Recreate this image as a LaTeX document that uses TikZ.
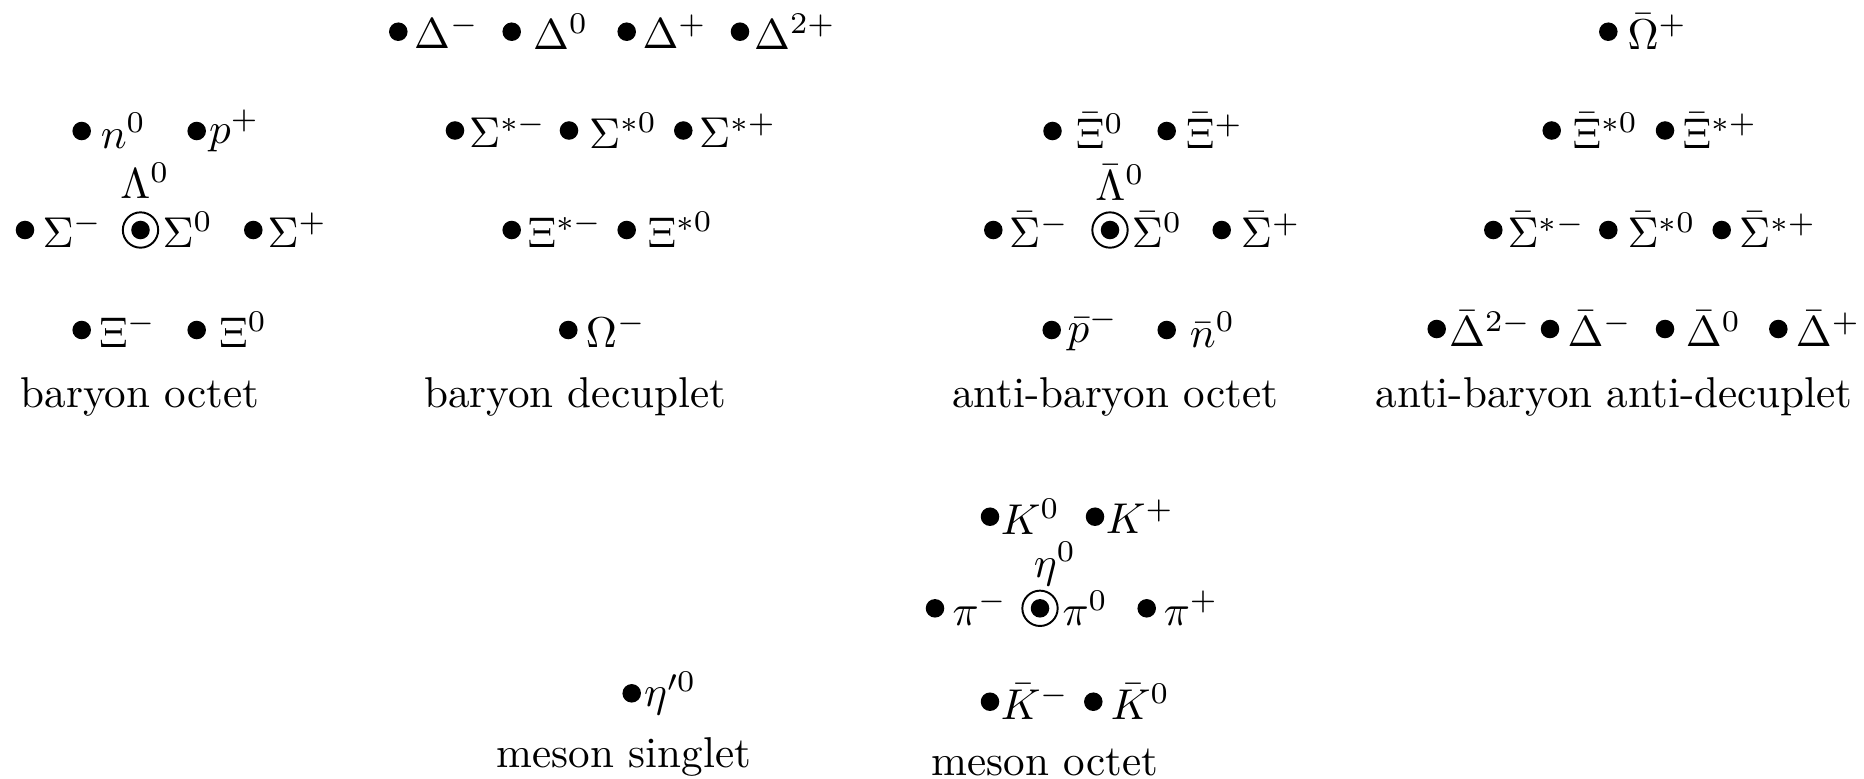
\documentclass[tikz,border=0pt]{standalone}
\begin{document}
\begin{tikzpicture}[x=0.232pt,y=-0.232pt,
  pdot/.style={circle, fill=black, draw=none, inner sep=0pt, minimum size=4.3pt},
  pring/.style={circle, draw=black, line width=0.45pt, inner sep=0pt, minimum size=8.2pt},
  plab/.style={anchor=west, inner sep=0pt},
  ptop/.style={anchor=base, inner sep=0pt},
  ttl/.style={anchor=base, inner sep=0pt}]
\useasboundingbox (0,0) rectangle (1864,778);

% ---------- baryon octet ----------
\node[pdot] (n) at (81.7,131) {};   \node[plab] (nL) at (100,131) {$n^0$};
\node[pdot] (p) at (196.7,131) {};  \node[plab] (pL) at (208.3,131) {$p^+$};
\node[ptop] (LamL) at (145,198.3) {$\Lambda^0$};
\node[pdot] (Sm) at (25,230) {};    \node[plab] (SmL) at (41.7,230) {$\Sigma^-$};
\node[pring] (S0r) at (140.5,230) {};
\node[pdot] (S0) at (140.5,230) {}; \node[plab] (S0L) at (161.7,230) {$\Sigma^0$};
\node[pdot] (Sp) at (253.3,230) {}; \node[plab] (SpL) at (266.7,230) {$\Sigma^+$};
\node[pdot] (Xm) at (81.7,330) {};  \node[plab] (XmL) at (98.3,330) {$\Xi^-$};
\node[pdot] (X0) at (196.7,330) {}; \node[plab] (X0L) at (218.3,330) {$\Xi^0$};
\node[ttl] (t1) at (140,407) {baryon octet};

% ---------- baryon decuplet ----------
\node[pdot] (Dm) at (398.3,31.7) {};  \node[plab] (DmL) at (413.3,31.7) {$\Delta^-$};
\node[pdot] (D0) at (511.7,31.7) {};  \node[plab] (D0L) at (532.3,31.7) {$\Delta^0$};
\node[pdot] (Dp) at (626.7,31.7) {};  \node[plab] (DpL) at (641.7,31.7) {$\Delta^+$};
\node[pdot] (Dpp) at (740,31.7) {};   \node[plab] (DppL) at (753.3,31.7) {$\Delta^{2+}$};
\node[pdot] (Ssm) at (455,130.5) {};  \node[plab] (SsmL) at (468.3,130.5) {$\Sigma^{*-}$};
\node[pdot] (Ss0) at (569,130.5) {};  \node[plab] (Ss0L) at (588.3,130.5) {$\Sigma^{*0}$};
\node[pdot] (Ssp) at (683.3,130.5) {};\node[plab] (SspL) at (698.3,130.5) {$\Sigma^{*+}$};
\node[pdot] (Xsm) at (511.7,230) {};  \node[plab] (XsmL) at (526.7,230) {$\Xi^{*-}$};
\node[pdot] (Xs0) at (626.7,230) {};  \node[plab] (Xs0L) at (646.7,230) {$\Xi^{*0}$};
\node[pdot] (Om) at (568.3,330) {};   \node[plab] (OmL) at (585,330) {$\Omega^-$};
\node[ttl] (t2) at (575,407) {baryon decuplet};

% ---------- anti-baryon octet ----------
\node[pdot] (aX0) at (1052.5,131) {};  \node[plab] (aX0L) at (1075,131) {$\bar\Xi^0$};
\node[pdot] (aXp) at (1166.7,131) {};  \node[plab] (aXpL) at (1185,131) {$\bar\Xi^+$};
\node[ptop] (aLamL) at (1120,200) {$\bar\Lambda^0$};
\node[pdot] (aSm) at (993.3,230) {};   \node[plab] (aSmL) at (1008.3,230) {$\bar\Sigma^-$};
\node[pring] (aS0r) at (1110,230) {};
\node[pdot] (aS0) at (1110,230) {};    \node[plab] (aS0L) at (1131,230) {$\bar\Sigma^0$};
\node[pdot] (aSp) at (1221.7,230) {};  \node[plab] (aSpL) at (1240,230) {$\bar\Sigma^+$};
\node[pdot] (ap) at (1051.7,330) {};   \node[plab] (apL) at (1066.7,330) {$\bar p^-$};
\node[pdot] (an) at (1166.7,330) {};   \node[plab] (anL) at (1189,330) {$\bar n^0$};
\node[ttl] (t3) at (1115,407) {anti-baryon octet};

% ---------- anti-baryon anti-decuplet ----------
\node[pdot] (aOm) at (1608.3,31.7) {};  \node[plab] (aOmL) at (1626.7,31.7) {$\bar\Omega^+$};
\node[pdot] (aXs0) at (1551.7,130.5) {};\node[plab] (aXs0L) at (1571.7,130.5) {$\bar\Xi^{*0}$};
\node[pdot] (aXsp) at (1665,130.5) {};  \node[plab] (aXspL) at (1681.7,130.5) {$\bar\Xi^{*+}$};
\node[pdot] (aSsm) at (1493.3,230) {};  \node[plab] (aSsmL) at (1506.7,230) {$\bar\Sigma^{*-}$};
\node[pdot] (aSs0) at (1608.3,230) {};  \node[plab] (aSs0L) at (1626.7,230) {$\bar\Sigma^{*0}$};
\node[pdot] (aSsp) at (1721.7,230) {};  \node[plab] (aSspL) at (1738.3,230) {$\bar\Sigma^{*+}$};
\node[pdot] (aDmm) at (1436.7,329) {};  \node[plab] (aDmmL) at (1448.3,329) {$\bar\Delta^{2-}$};
\node[pdot] (aDm) at (1550,329) {};     \node[plab] (aDmL) at (1566.7,329) {$\bar\Delta^-$};
\node[pdot] (aD0) at (1665,329) {};     \node[plab] (aD0L) at (1685,329) {$\bar\Delta^0$};
\node[pdot] (aDp) at (1778.3,329) {};   \node[plab] (aDpL) at (1795,329) {$\bar\Delta^+$};
\node[ttl] (t4) at (1614,407) {anti-baryon anti-decuplet};

% ---------- meson singlet ----------
\node[pdot] (etap) at (631.7,693.3) {}; \node[plab] (etapL) at (643.3,693.3) {$\eta'^0$};
\node[ttl] (t5) at (624,767) {meson singlet};

% ---------- meson octet ----------
\node[pdot] (K0) at (990,516.7) {};    \node[plab] (K0L) at (1000,516.7) {$K^0$};
\node[pdot] (Kp) at (1095,516.7) {};   \node[plab] (KpL) at (1105,516.7) {$K^+$};
\node[ptop] (etaL) at (1055,577) {$\eta^0$};
\node[pdot] (pim) at (935,608.3) {};   \node[plab] (pimL) at (951.7,608.3) {$\pi^-$};
\node[pring] (pi0r) at (1040,608.3) {};
\node[pdot] (pi0) at (1040,608.3) {};  \node[plab] (pi0L) at (1061.7,608.3) {$\pi^0$};
\node[pdot] (pip) at (1146.7,608.3) {};\node[plab] (pipL) at (1163,608.3) {$\pi^+$};
\node[pdot] (aKm) at (990,701.7) {};   \node[plab] (aKmL) at (1000,701.7) {$\bar K^-$};
\node[pdot] (aK0) at (1093.3,701.7) {};\node[plab] (aK0L) at (1110,701.7) {$\bar K^0$};
\node[ttl] (t6) at (1045,775) {meson octet};
\end{tikzpicture}
\end{document}
